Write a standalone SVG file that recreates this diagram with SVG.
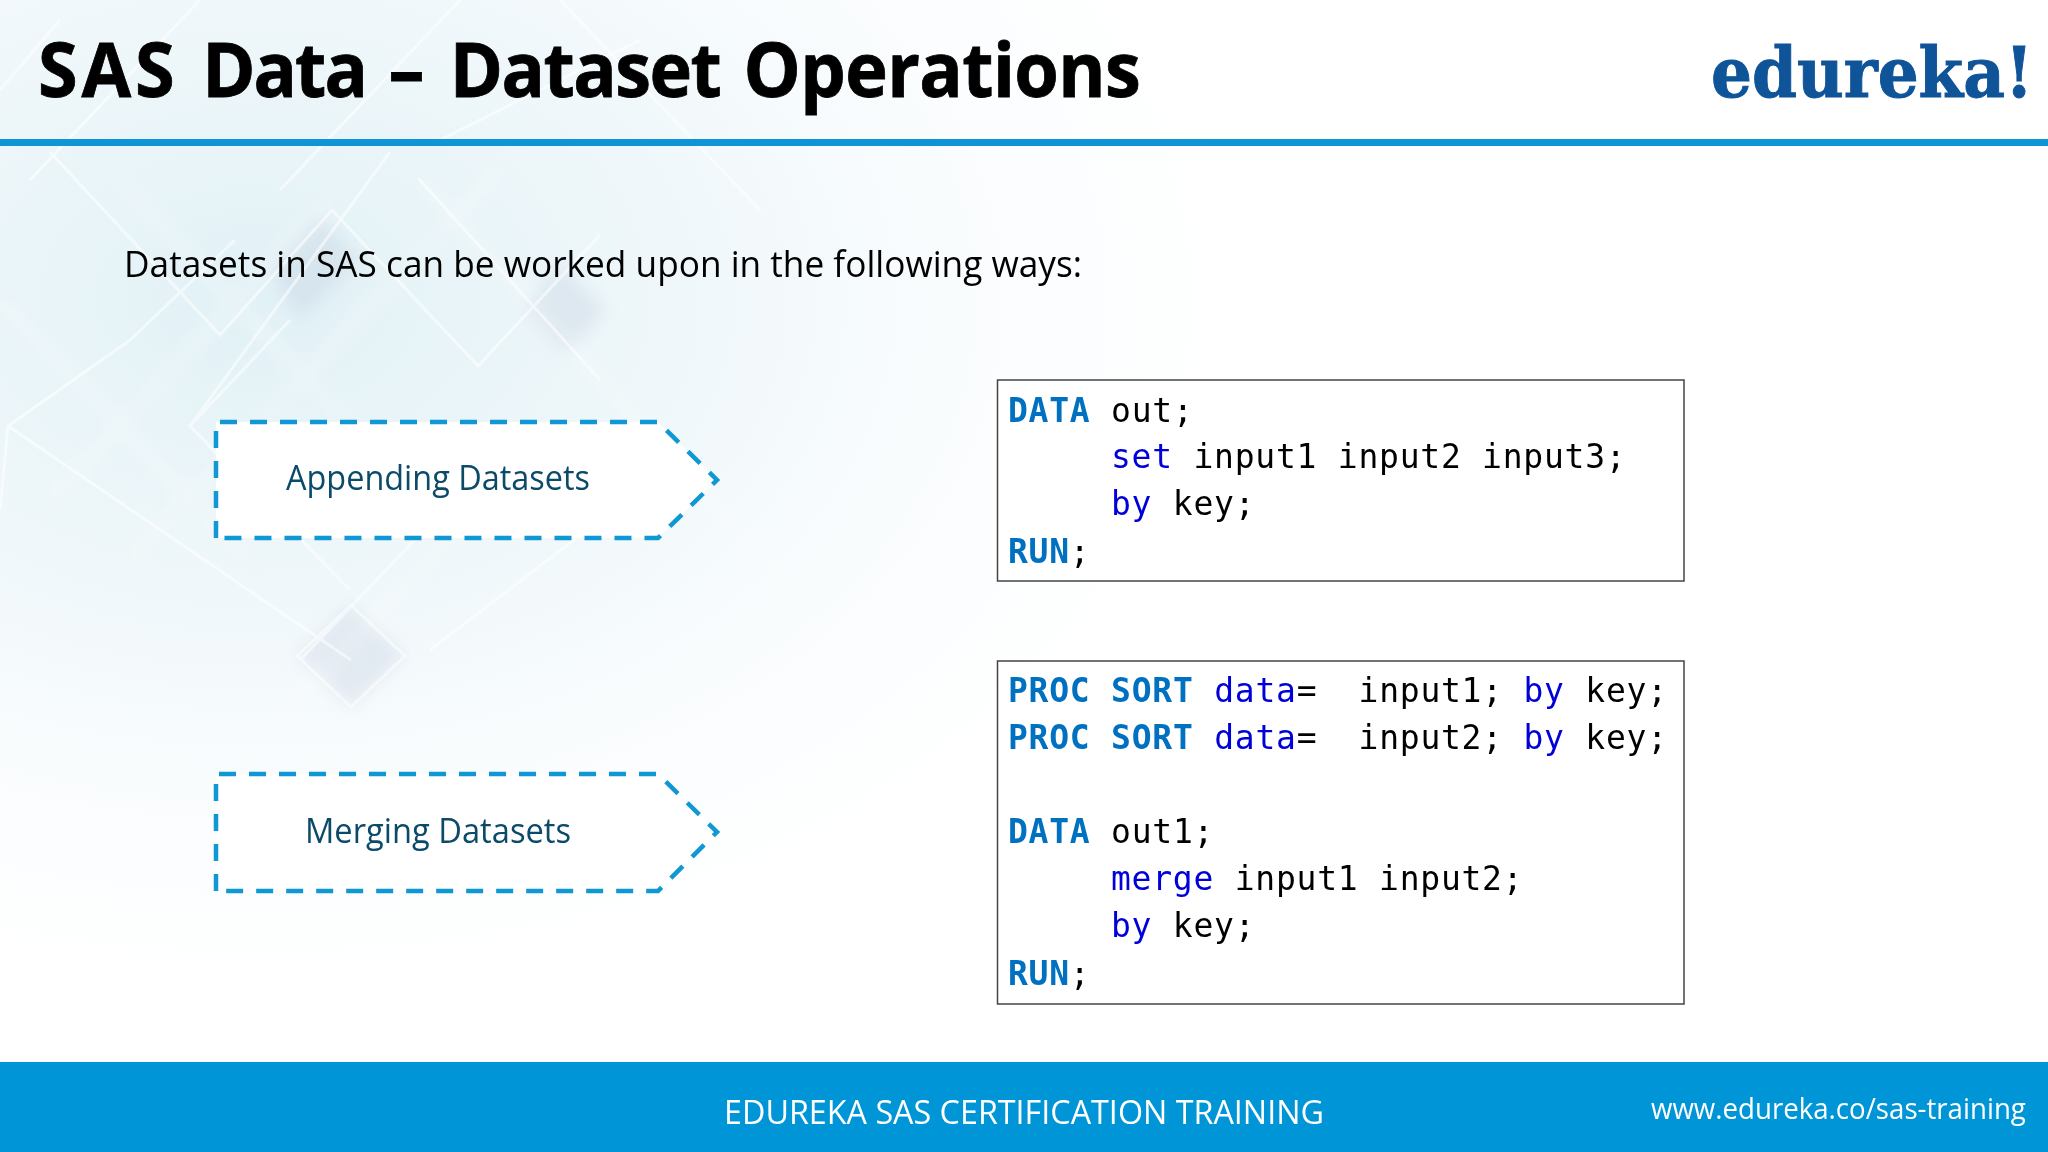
<svg xmlns="http://www.w3.org/2000/svg" width="2048" height="1152" viewBox="0 0 2048 1152">
<style>
.sans{font-family:"Open Sans","Noto Sans",sans-serif}
.code{font-family:"DejaVu Sans Mono","Liberation Mono",monospace;font-size:33px;letter-spacing:.75px;fill:#000;white-space:pre}
.kw{fill:#0070c0;font-weight:700}
.st{fill:#0000d8}
.box{fill:#fff;stroke:#444;stroke-width:1.5}
.arrow{fill:#fff;stroke:#0f98d4;stroke-width:4.5;stroke-dasharray:17 13}
.lab{font-size:34px;fill:#0b4a68;text-anchor:middle}
.sh{fill:#b9c8da;opacity:.3}
.li{fill:none;stroke:#fff;stroke-width:3;opacity:.55}
.band{fill:none;stroke:#fff;stroke-width:16;opacity:.22}
</style>
<defs>
<radialGradient id="bg" gradientUnits="userSpaceOnUse" cx="260" cy="300" r="1000" gradientTransform="translate(0 90) scale(1 .7)">
<stop offset="0" stop-color="#e1f1f6"/><stop offset="0.4" stop-color="#eff7fa"/><stop offset="0.75" stop-color="#fbfdfe"/><stop offset="1" stop-color="#fff"/>
</radialGradient>
<filter id="soft" x="-30%" y="-30%" width="160%" height="160%"><feGaussianBlur stdDeviation="8"/></filter>
</defs>
<g id="background">
<rect width="2048" height="1152" fill="#fff"/>
<rect width="2048" height="1152" fill="url(#bg)"/>
<g filter="url(#soft)">
<polygon class="sh" points="351,605 405,656 351,707 297,656"/>
<polygon class="sh" points="318,215 360,260 300,320 270,270"/>
<polygon class="sh" points="561,265 605,310 565,355 525,310"/>
<path class="band" d="M50,500 L330,200 M130,560 L500,170 M0,300 L250,560 M120,180 L420,500 M420,180 L800,600 M240,760 L560,420"/>
</g>
<path class="li" d="M50,152 L220,335 L332,210 M332,210 L478,366 L600,235 M418,178 L600,380 M390,152 L190,426 L350,590 M8,426 L351,660 M351,605 L405,656 L351,707 L297,656 Z M0,510 L8,426 L130,340 L235,240 M190,426 L290,320 M300,660 L510,440 M430,650 L600,520"/>
<path class="li" d="M460,0 L280,190 M560,0 L760,210 M200,0 L30,180 M640,40 L440,140 M0,90 L60,20" opacity=".4"/>
</g>
<g id="header">
<text class="sans" transform="translate(38 97) scale(.96 1)" font-size="75" font-weight="700" fill="#000" stroke="#000" stroke-width=".8"><tspan x="0" letter-spacing="4">SAS</tspan> <tspan x="171" letter-spacing="-2">Data</tspan> <tspan x="365">–</tspan> <tspan x="429" letter-spacing="-1.6">Dataset</tspan> <tspan x="735" letter-spacing="-.6">Operations</tspan></text>
<text id="logo" transform="translate(1711 97) scale(.85 1)" font-family="'DejaVu Serif',serif" font-weight="700" font-size="70" fill="#0f5499" stroke="#0f5499" stroke-width="1" textLength="379" lengthAdjust="spacingAndGlyphs">edureka!</text>
<rect y="139" width="2048" height="7" fill="#0f95d5"/>
</g>
<text class="sans" x="124" y="277" font-size="36" fill="#000" textLength="958" lengthAdjust="spacingAndGlyphs">Datasets in SAS can be worked upon in the following ways:</text>
<g id="connectors"/>
<g id="node-appending">
<path class="arrow" d="M216,538 V422 H658 L717,480 L658,538 Z"/>
<text class="sans lab" x="438" y="490" textLength="304" lengthAdjust="spacingAndGlyphs">Appending Datasets</text>
</g>
<g id="node-merging">
<path class="arrow" d="M216,891 V774 H658 L717,832 L658,891 Z"/>
<text class="sans lab" x="438" y="843" textLength="266" lengthAdjust="spacingAndGlyphs">Merging Datasets</text>
</g>
<g id="node-append-code">
<rect class="box" x="997.5" y="380" width="686.5" height="201"/>
<text class="code" x="1008" y="422"><tspan class="kw">DATA</tspan> out;</text>
<text class="code" x="1111" y="468"><tspan class="st">set</tspan> input1 input2 input3;</text>
<text class="code" x="1111" y="515"><tspan class="st">by</tspan> key;</text>
<text class="code" x="1008" y="563"><tspan class="kw">RUN</tspan>;</text>
</g>
<g id="node-merge-code">
<rect class="box" x="997.5" y="661" width="686.5" height="343"/>
<text class="code" x="1008" y="702"><tspan class="kw">PROC SORT</tspan> <tspan class="st">data</tspan>=  input1; <tspan class="st">by</tspan> key;</text>
<text class="code" x="1008" y="749"><tspan class="kw">PROC SORT</tspan> <tspan class="st">data</tspan>=  input2; <tspan class="st">by</tspan> key;</text>
<text class="code" x="1008" y="843"><tspan class="kw">DATA</tspan> out1;</text>
<text class="code" x="1111" y="890"><tspan class="st">merge</tspan> input1 input2;</text>
<text class="code" x="1111" y="937"><tspan class="st">by</tspan> key;</text>
<text class="code" x="1008" y="985"><tspan class="kw">RUN</tspan>;</text>
</g>
<g id="footer">
<rect y="1062" width="2048" height="90" fill="#0095d6"/>
<text class="sans" x="724" y="1124" font-size="33" fill="#fff" textLength="600" lengthAdjust="spacingAndGlyphs">EDUREKA SAS CERTIFICATION TRAINING</text>
<text class="sans" transform="translate(1651 1119) scale(.85 1)" font-size="30" fill="#fff" textLength="441" lengthAdjust="spacingAndGlyphs">www.edureka.co/sas-training</text>
</g>
</svg>
